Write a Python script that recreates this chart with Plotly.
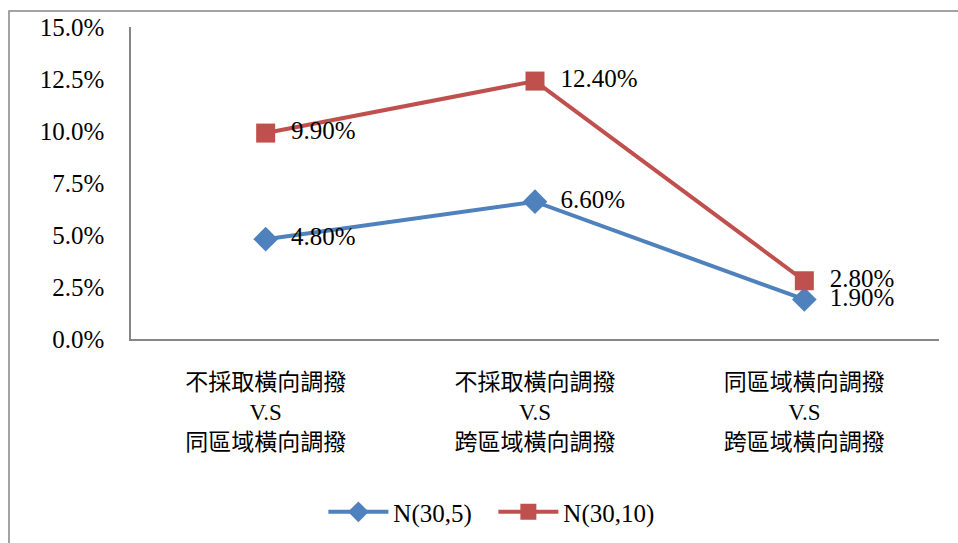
import plotly.graph_objects as go

categories = [
    "不採取橫向調撥<br>V.S<br>同區域橫向調撥",
    "不採取橫向調撥<br>V.S<br>跨區域橫向調撥",
    "同區域橫向調撥<br>V.S<br>跨區域橫向調撥",
]
n30_5 = [4.8, 6.6, 1.9]
n30_10 = [9.9, 12.4, 2.8]
y_ticks = [0, 2.5, 5, 7.5, 10, 12.5, 15]
y_ticktext = [f"{v:.1f}%" for v in y_ticks]

SERIF = "Liberation Serif, Noto Sans CJK TC"
BLUE = "#4F81BD"
RED = "#C0504D"
PAD = "\u00a0\u00a0"

fig = go.Figure()
fig.add_trace(go.Scatter(
    x=categories, y=n30_5, name="N(30,5)", mode="lines+markers+text",
    line=dict(color=BLUE, width=4),
    marker=dict(symbol="diamond", size=19, color=BLUE),
    texttemplate=PAD + "%{y:.2f}%", textposition="middle right",
    textfont=dict(family=SERIF, size=25, color="black"),
    cliponaxis=False,
))
fig.add_trace(go.Scatter(
    x=categories, y=n30_10, name="N(30,10)", mode="lines+markers+text",
    line=dict(color=RED, width=4),
    marker=dict(symbol="square", size=19, color=RED),
    texttemplate=PAD + "%{y:.2f}%", textposition="middle right",
    textfont=dict(family=SERIF, size=25, color="black"),
    cliponaxis=False,
))

# outer chart frame (extends past the right and bottom edges)
fig.add_shape(type="rect", xref="paper", yref="paper",
              x0=-0.151, x1=1.05, y0=-0.7, y1=1.0513,
              line=dict(color="#868686", width=1.5), layer="below")

fig.update_layout(
    width=958, height=543,
    margin=dict(l=131, r=19, t=27, b=204),
    paper_bgcolor="white", plot_bgcolor="white",
    font=dict(family=SERIF, size=25, color="black"),
    showlegend=True,
    legend=dict(orientation="h", xref="container", yref="container",
                x=0.515, y=0.057, xanchor="center", yanchor="middle",
                font=dict(family=SERIF, size=25), itemwidth=60,
                entrywidth=95, tracegroupgap=0),
    xaxis=dict(range=[-0.5, 2.5], showgrid=False, showline=True,
               linecolor="#868686", linewidth=1.5,
               ticks="", tickfont=dict(family=SERIF, size=23),
               ticklabelstandoff=22, zeroline=False),
    yaxis=dict(range=[0, 15], tickvals=y_ticks, ticktext=y_ticktext,
               showgrid=False, showline=True, linecolor="#868686", linewidth=1.5,
               ticks="", tickfont=dict(family=SERIF, size=25),
               ticklabelstandoff=20, zeroline=False),
)

fig.write_html("out.html")
